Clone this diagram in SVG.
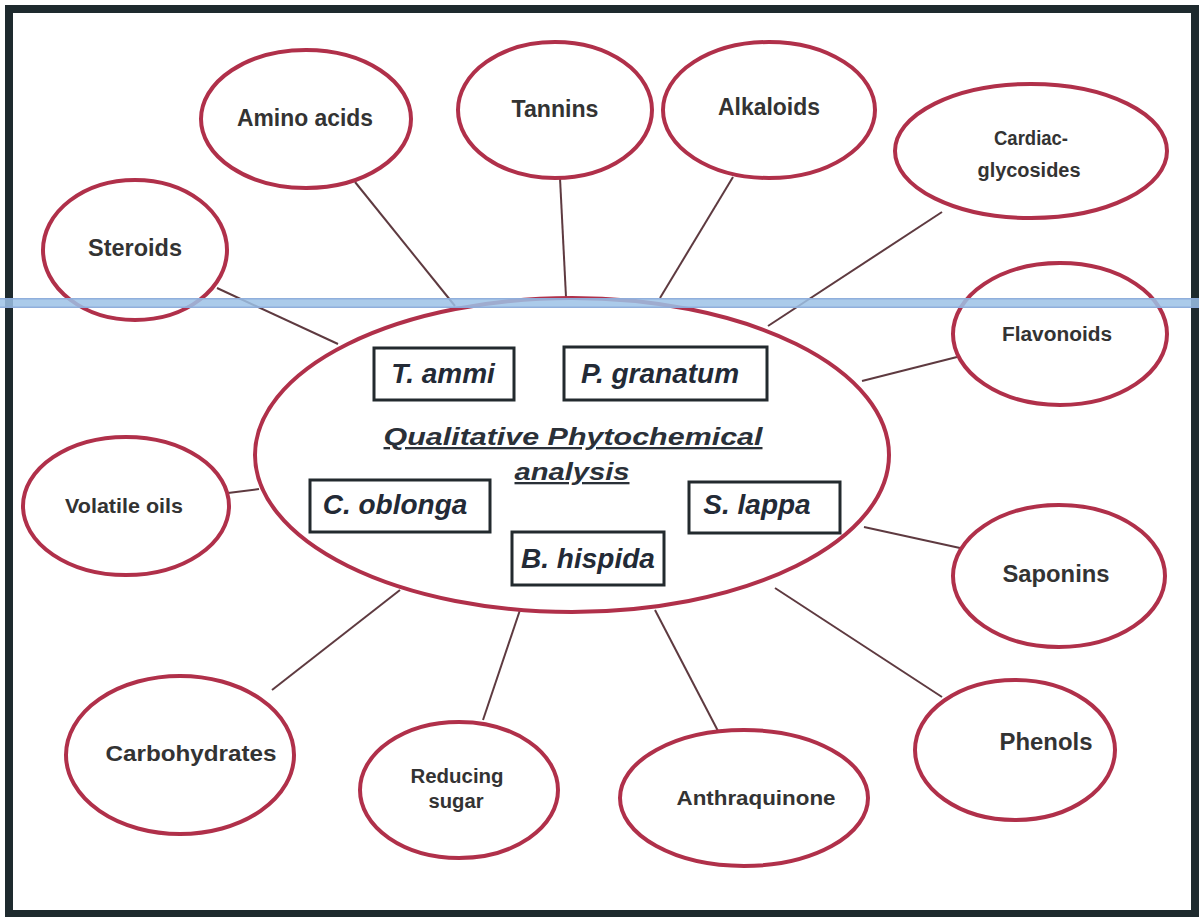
<svg xmlns="http://www.w3.org/2000/svg" width="1199" height="917" viewBox="0 0 1199 917">
<style>
.node ellipse{fill:#ffffff;stroke:#b0304a;stroke-width:4}
.lbl{font-family:"Liberation Sans",Arial,sans-serif;font-weight:bold;fill:#333333;text-anchor:middle}
.sp rect{fill:#ffffff;stroke:#232a2e;stroke-width:3}
.sp text{font-family:"Liberation Sans",Arial,sans-serif;font-weight:bold;font-style:italic;font-size:28px;fill:#232a36;text-anchor:middle}
.title{font-family:"Liberation Sans",Arial,sans-serif;font-weight:bold;font-style:italic;font-size:23px;fill:#2a3038;text-anchor:middle;text-decoration:underline}
#connectors line{stroke:#5e3a40;stroke-width:2}
</style>
<rect x="0" y="0" width="1199" height="917" fill="#ffffff"/>
<rect x="9" y="9" width="1186" height="905" fill="#ffffff" stroke="#1e2a2e" stroke-width="8"/>

<g id="connectors">
<line x1="217" y1="288" x2="338" y2="344"/>
<line x1="355" y1="182" x2="455" y2="306"/>
<line x1="560" y1="178" x2="566" y2="297"/>
<line x1="733" y1="177" x2="660" y2="298"/>
<line x1="942" y1="212" x2="768" y2="326"/>
<line x1="957" y1="357" x2="862" y2="381"/>
<line x1="228" y1="493" x2="259" y2="489"/>
<line x1="960" y1="548" x2="864" y2="527"/>
<line x1="272" y1="690" x2="400" y2="590"/>
<line x1="483" y1="720" x2="520" y2="610"/>
<line x1="718" y1="731" x2="655" y2="610"/>
<line x1="942" y1="697" x2="775" y2="588"/>
</g>

<g id="center" class="node">
<ellipse cx="572" cy="455" rx="317" ry="157"/>
<text class="title" x="573" y="445" textLength="379" lengthAdjust="spacingAndGlyphs">Qualitative Phytochemical</text>
<text class="title" x="572" y="480" textLength="115" lengthAdjust="spacingAndGlyphs">analysis</text>
</g>

<g id="sp-tammi" class="sp"><rect x="374" y="348" width="140" height="52"/><text x="443" y="383">T. ammi</text></g>
<g id="sp-pgranatum" class="sp"><rect x="564" y="347" width="203" height="53"/><text x="660" y="383">P. granatum</text></g>
<g id="sp-coblonga" class="sp"><rect x="310" y="480" width="180" height="52"/><text x="395" y="514">C. oblonga</text></g>
<g id="sp-slappa" class="sp"><rect x="689" y="482" width="151" height="51"/><text x="757" y="514">S. lappa</text></g>
<g id="sp-bhispida" class="sp"><rect x="512" y="532" width="152" height="53"/><text x="588" y="568">B. hispida</text></g>

<g id="n-amino" class="node"><ellipse cx="306" cy="119" rx="105" ry="69"/><text class="lbl" x="305" y="126" font-size="23" textLength="136" lengthAdjust="spacingAndGlyphs">Amino acids</text></g>
<g id="n-tannins" class="node"><ellipse cx="555" cy="110" rx="97" ry="68"/><text class="lbl" x="555" y="117" font-size="23" textLength="87" lengthAdjust="spacingAndGlyphs">Tannins</text></g>
<g id="n-alkaloids" class="node"><ellipse cx="769" cy="110" rx="106" ry="68"/><text class="lbl" x="769" y="115" font-size="23" textLength="102" lengthAdjust="spacingAndGlyphs">Alkaloids</text></g>
<g id="n-cardiac" class="node"><ellipse cx="1031" cy="151" rx="136" ry="67"/><text class="lbl" x="1031" y="145" font-size="20" textLength="74" lengthAdjust="spacingAndGlyphs">Cardiac-</text><text class="lbl" x="1029" y="177" font-size="20" textLength="103" lengthAdjust="spacingAndGlyphs">glycosides</text></g>
<g id="n-steroids" class="node"><ellipse cx="135" cy="250" rx="92" ry="70"/><text class="lbl" x="135" y="256" font-size="23" textLength="94" lengthAdjust="spacingAndGlyphs">Steroids</text></g>
<g id="n-flavonoids" class="node"><ellipse cx="1060" cy="334" rx="107" ry="71"/><text class="lbl" x="1057" y="341" font-size="20" textLength="110" lengthAdjust="spacingAndGlyphs">Flavonoids</text></g>
<g id="n-volatile" class="node"><ellipse cx="126" cy="506" rx="103" ry="69"/><text class="lbl" x="124" y="513" font-size="21" textLength="118" lengthAdjust="spacingAndGlyphs">Volatile oils</text></g>
<g id="n-saponins" class="node"><ellipse cx="1059" cy="576" rx="106" ry="71"/><text class="lbl" x="1056" y="582" font-size="23" textLength="107" lengthAdjust="spacingAndGlyphs">Saponins</text></g>
<g id="n-carbo" class="node"><ellipse cx="180" cy="755" rx="114" ry="79"/><text class="lbl" x="191" y="761" font-size="22" textLength="171" lengthAdjust="spacingAndGlyphs">Carbohydrates</text></g>
<g id="n-reducing" class="node"><ellipse cx="459" cy="790" rx="99" ry="68"/><text class="lbl" x="457" y="783" font-size="20" textLength="93" lengthAdjust="spacingAndGlyphs">Reducing</text><text class="lbl" x="456" y="808" font-size="20" textLength="55" lengthAdjust="spacingAndGlyphs">sugar</text></g>
<g id="n-anthra" class="node"><ellipse cx="744" cy="798" rx="124" ry="68"/><text class="lbl" x="756" y="805" font-size="20" textLength="159" lengthAdjust="spacingAndGlyphs">Anthraquinone</text></g>
<g id="n-phenols" class="node"><ellipse cx="1015" cy="750" rx="100" ry="70"/><text class="lbl" x="1046" y="750" font-size="23" textLength="93" lengthAdjust="spacingAndGlyphs">Phenols</text></g>

<rect x="0" y="298" width="1199" height="10" fill="#9cc2e6" opacity="0.85"/>
<rect x="0" y="298" width="1199" height="1.5" fill="#8aa8d8" opacity="0.8"/>
<rect x="0" y="306.5" width="1199" height="1.5" fill="#8aa8d8" opacity="0.8"/>
</svg>
